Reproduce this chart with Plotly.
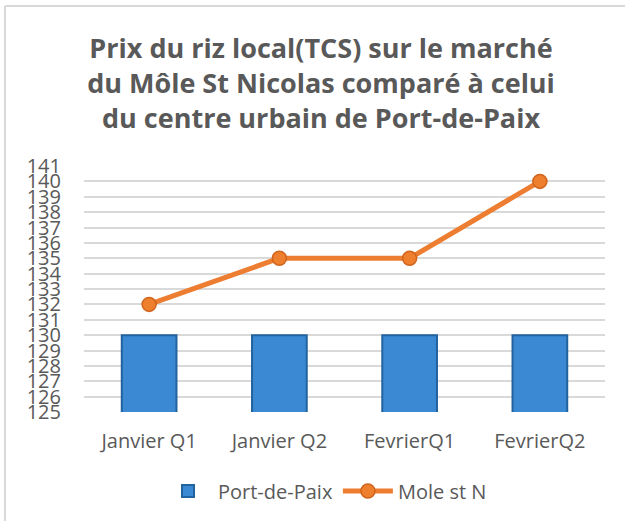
import plotly.graph_objects as go

categories = ["Janvier Q1", "Janvier Q2", "FevrierQ1", "FevrierQ2"]
port_de_paix = [130, 130, 130, 130]
mole_st_n = [132, 135, 135, 140]
y_ticks = list(range(125, 142))

title_text = ("Prix du riz local(TCS) sur le marché<br>"
              "du Môle St Nicolas comparé à celui<br>"
              "du centre urbain de Port-de-Paix")

W, H = 625, 521
ML, MR, MT, MB = 84, 20, 166, 109
pw, ph = W - ML - MR, H - MT - MB

FONT = "'Open Sans', Lato, sans-serif"

fig = go.Figure()
fig.add_trace(go.Bar(
    x=categories, y=port_de_paix, name="Port-de-Paix",
    width=0.42,
    marker=dict(color="#3a89d2", line=dict(color="#22629f", width=2)),
))
fig.add_trace(go.Scatter(
    x=categories, y=mole_st_n, name="Mole st N",
    mode="lines+markers",
    line=dict(color="#ed7d31", width=5),
    marker=dict(size=14, color="#ee7f2f", line=dict(color="#d0641c", width=1.5)),
))

def px_x(p):
    return (p - ML) / pw

def px_y(p):
    return (H - MB - p) / ph

fig.update_layout(
    width=W, height=H,
    margin=dict(l=ML, r=MR, t=MT, b=MB, autoexpand=False),
    paper_bgcolor="white", plot_bgcolor="white",
    font=dict(family=FONT, color="#595959", size=18),
    title=dict(text=title_text, x=321 / W, xanchor="center", xref="container",
               y=1 - 58 / H, yanchor="middle",
               font=dict(family=FONT, size=27, color="#595959", weight="bold")),
    xaxis=dict(showgrid=False, showline=False, ticks="", tickfont=dict(size=20),
               range=[-0.5, 3.5], ticklabelstandoff=15, tickangle=0),
    yaxis=dict(range=[125, 141], tickvals=y_ticks, showgrid=True,
               gridcolor="#d9d9d9", gridwidth=2, zeroline=False, showline=False,
               ticks="", tickfont=dict(size=20), ticklabelstandoff=22),
    legend=dict(orientation="h", x=px_x(325), xanchor="center",
                y=px_y(491), yanchor="middle",
                font=dict(size=20), itemwidth=50),
    shapes=[
        dict(type="line", xref="paper", yref="paper",
             x0=px_x(5), x1=px_x(625), y0=px_y(6), y1=px_y(6),
             line=dict(color="#d9d9d9", width=2)),
        dict(type="line", xref="paper", yref="paper",
             x0=px_x(5), x1=px_x(5), y0=px_y(6), y1=px_y(521),
             line=dict(color="#d9d9d9", width=2)),
    ],
)

fig.write_html("out.html", config={"displayModeBar": False},
               post_script="document.body.style.margin='0';")
